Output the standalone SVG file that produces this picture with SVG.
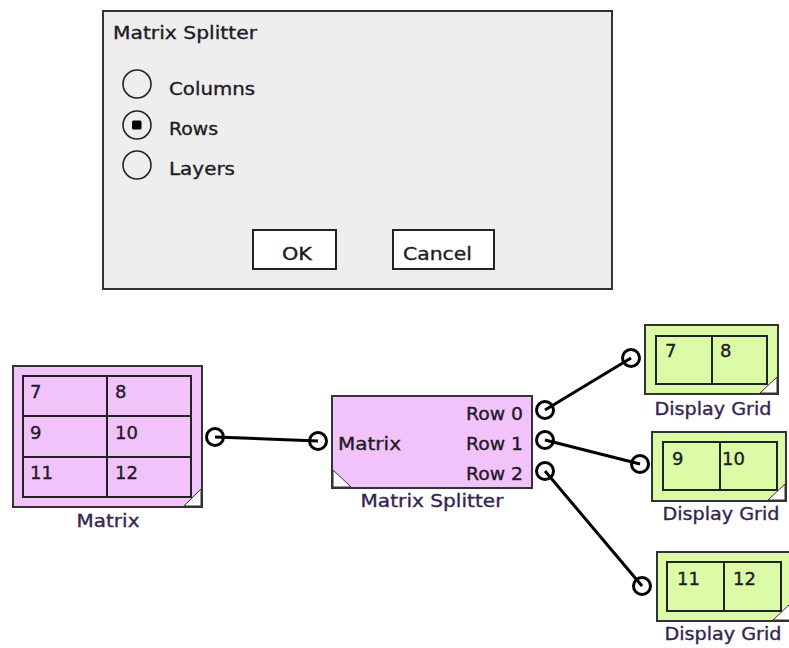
<svg xmlns="http://www.w3.org/2000/svg" width="789" height="648" viewBox="0 0 789 648">
<style>
text{font-family:"DejaVu Sans","Liberation Sans",sans-serif;font-size:18px;fill:#1e1a26;stroke:#1e1a26;stroke-width:0.35}
.lbl{fill:#362450;stroke:#362450}
.pink{fill:#f2c3fa;stroke:#333;stroke-width:2}
.green{fill:#dbfba6;stroke:#333;stroke-width:2}
.grid{fill:none;stroke:#222;stroke-width:2}
.tri{fill:#fff;stroke:#333;stroke-width:1}
.port{fill:none;stroke:#000;stroke-width:3}
.wire{stroke:#000;stroke-width:3;fill:none}
.radio{fill:none;stroke:#222;stroke-width:1.6}
.btn{fill:#fff;stroke:#222;stroke-width:2}
</style>
<rect width="789" height="648" fill="#fff"/>
<g id="dialog">
<rect x="103" y="11" width="509" height="278" fill="#eeeeee" stroke="#333" stroke-width="2"/>
<text x="113" y="39" textLength="144" lengthAdjust="spacingAndGlyphs">Matrix Splitter</text>
<circle class="radio" cx="137" cy="84" r="14"/>
<text x="169" y="95" textLength="86" lengthAdjust="spacingAndGlyphs">Columns</text>
<circle class="radio" cx="137" cy="125" r="14"/>
<rect x="132" y="120.5" width="9.5" height="9" rx="1.5" fill="#000"/>
<text x="169" y="135" textLength="49" lengthAdjust="spacingAndGlyphs">Rows</text>
<circle class="radio" cx="137" cy="165" r="14"/>
<text x="169" y="175" textLength="66" lengthAdjust="spacingAndGlyphs">Layers</text>
<rect class="btn" x="253" y="230" width="83" height="39"/>
<text x="282" y="260" textLength="30" lengthAdjust="spacingAndGlyphs">OK</text>
<rect class="btn" x="393" y="230" width="101" height="39"/>
<text x="403" y="260" textLength="69" lengthAdjust="spacingAndGlyphs">Cancel</text>
</g>
<g id="connectors">
<line class="wire" x1="215" y1="437" x2="318" y2="441"/>
<line class="wire" x1="545" y1="410" x2="631" y2="358"/>
<line class="wire" x1="545" y1="440" x2="640" y2="464"/>
<line class="wire" x1="545" y1="471" x2="642" y2="586"/>
</g>
<g id="matrix">
<rect class="pink" x="13" y="366" width="189" height="141"/>
<rect class="grid" x="23" y="376" width="168" height="121"/>
<line class="grid" x1="107" y1="376" x2="107" y2="497"/>
<line class="grid" x1="23" y1="416" x2="191" y2="416"/>
<line class="grid" x1="23" y1="457" x2="191" y2="457"/>
<text x="30" y="398">7</text><text x="115" y="398">8</text>
<text x="30" y="439">9</text><text x="115" y="439">10</text>
<text x="30" y="479">11</text><text x="115" y="479">12</text>
<polygon class="tri" points="184,506 201,506 201,489"/>
<text class="lbl" x="108" y="527" text-anchor="middle" textLength="63" lengthAdjust="spacingAndGlyphs">Matrix</text>
<circle class="port" cx="215" cy="437" r="8.5"/>
</g>
<g id="splitter">
<rect class="pink" x="332" y="396" width="200" height="92"/>
<polygon class="tri" points="333,470 333,487 351,487"/>
<text x="338" y="450" textLength="63" lengthAdjust="spacingAndGlyphs">Matrix</text>
<text x="523" y="420" text-anchor="end" textLength="57" lengthAdjust="spacingAndGlyphs">Row 0</text>
<text x="523" y="450" text-anchor="end" textLength="57" lengthAdjust="spacingAndGlyphs">Row 1</text>
<text x="523" y="480" text-anchor="end" textLength="57" lengthAdjust="spacingAndGlyphs">Row 2</text>
<text class="lbl" x="432" y="507" text-anchor="middle" textLength="143" lengthAdjust="spacingAndGlyphs">Matrix Splitter</text>
<circle class="port" cx="318" cy="441" r="8.5"/>
<circle class="port" cx="545" cy="410" r="8.5"/>
<circle class="port" cx="545" cy="440" r="8.5"/>
<circle class="port" cx="545" cy="471" r="8.5"/>
</g>
<g id="grid1">
<rect class="green" x="645" y="325" width="133" height="69"/>
<rect class="grid" x="656" y="336" width="111" height="48"/>
<line class="grid" x1="712" y1="336" x2="712" y2="384"/>
<text x="665" y="357">7</text><text x="720" y="357">8</text>
<polygon class="tri" points="760,393 777,393 777,377"/>
<text class="lbl" x="713" y="415" text-anchor="middle" textLength="117" lengthAdjust="spacingAndGlyphs">Display Grid</text>
<circle class="port" cx="631" cy="358" r="8.5"/>
</g>
<g id="grid2">
<rect class="green" x="652" y="432" width="134" height="69"/>
<rect class="grid" x="663" y="442" width="114" height="48"/>
<line class="grid" x1="720" y1="442" x2="720" y2="490"/>
<text x="672" y="465">9</text><text x="722" y="465">10</text>
<polygon class="tri" points="768,500 785,500 785,484"/>
<text class="lbl" x="721" y="520" text-anchor="middle" textLength="117" lengthAdjust="spacingAndGlyphs">Display Grid</text>
<circle class="port" cx="640" cy="464" r="8.5"/>
</g>
<g id="grid3">
<rect class="green" x="657" y="552" width="134" height="69"/>
<rect class="grid" x="667" y="562" width="114" height="49"/>
<line class="grid" x1="724" y1="562" x2="724" y2="611"/>
<text x="677" y="585">11</text><text x="733" y="585">12</text>
<polygon class="tri" points="773,620 790,620 790,604"/>
<text class="lbl" x="723" y="640" text-anchor="middle" textLength="117" lengthAdjust="spacingAndGlyphs">Display Grid</text>
<circle class="port" cx="642" cy="586" r="8.5"/>
</g>
</svg>
